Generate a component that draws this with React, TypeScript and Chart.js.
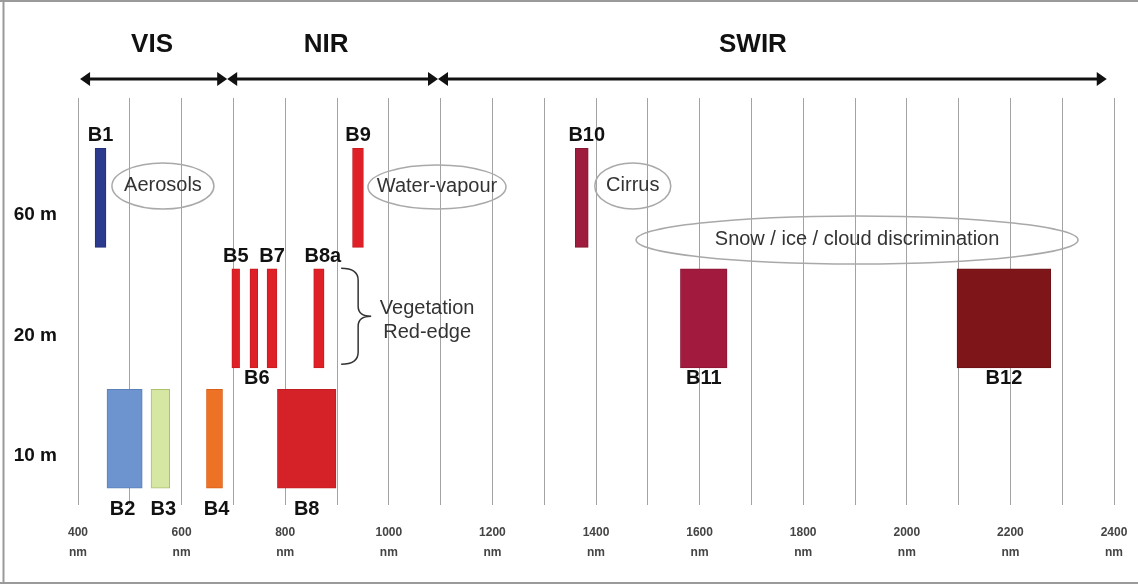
import React, { useEffect, useRef } from 'react';
import { Chart, registerables } from 'chart.js';

Chart.register(...registerables);

// ---- data ----
const bandNames = ['B1', 'B2', 'B3', 'B4', 'B5', 'B6', 'B7', 'B8', 'B8a', 'B9', 'B10', 'B11', 'B12'];
const bandStart = [433, 456, 541, 648, 697, 732, 765, 785, 855, 930, 1360, 1563, 2097];
const bandEnd = [454, 524, 577, 679, 712, 747, 784, 898, 875, 951, 1385, 1653, 2278];
const bandResolution = [60, 10, 10, 10, 20, 20, 20, 10, 20, 60, 60, 20, 20];

const resolutionRows = [60, 20, 10];
const resolutionLabels = ['60 m', '20 m', '10 m'];

const xTickValues = [400, 600, 800, 1000, 1200, 1400, 1600, 1800, 2000, 2200, 2400];
const xUnit = 'nm';

const regionNames = ['VIS', 'NIR', 'SWIR'];
const regionStart = [404, 688, 1095];
const regionEnd = [688, 1095, 2386];
const regionLabelX = [543, 879, 1703];

// ---- styles ----
const bandColors = ['#2c3a8e', '#6d94cf', '#d6e6a3', '#ee7226', '#e02027', '#e02027', '#e02027', '#d52229', '#e02027', '#e02027', '#9e1c3d', '#a21b3e', '#7e1619'];
const bandBorders = ['#25307a', '#5b80b8', '#a9c06e', '#d9601a', '#c81b21', '#c81b21', '#c81b21', '#bf1d23', '#c81b21', '#c81b21', '#861733', '#8a1634', '#6c1215'];
const bandLabelPlace = ['above', 'foot', 'foot', 'foot', 'above', 'below', 'above', 'foot', 'above', 'above', 'above', 'below', 'below'];
const bandLabelDx = [0, -2, 3, 2, 0, 3, 0, 0, 4, 0, 5, 0, 0];
const placeDy: Record<string, number> = { above: -62, below: 60, foot: 71 };

const ellipseNotes = [
  { text: 'Aerosols', x: 564, row: 60, dy: -12, rx: 51, ry: 23 },
  { text: 'Water-vapour', x: 1093, row: 60, dy: -11, rx: 69, ry: 22 },
  { text: 'Cirrus', x: 1471, row: 60, dy: -12, rx: 38, ry: 23 },
  { text: 'Snow / ice / cloud discrimination', x: 1904, row: 60, dy: 42, rx: 221, ry: 24 },
];
const braceNote = { x: 908, row: 20, lines: ['Vegetation', 'Red-edge'], textX: 1074, lineDy: [-10, 14] };

const FONT = '"Liberation Sans", Arial, Helvetica, sans-serif';

const rowValue = (res: number) => resolutionRows.length - resolutionRows.indexOf(res);

const annotationPlugin = {
  id: 'sentinelAnnotations',
  beforeDraw(chart: any) {
    const { ctx, width, height } = chart;
    ctx.save();
    ctx.fillStyle = '#ffffff';
    ctx.fillRect(0, 0, width, height);
    ctx.restore();
  },
  afterDatasetsDraw(chart: any) {
    const { ctx, chartArea, scales } = chart;
    const x = scales.x;
    const y = scales.y;
    ctx.save();

    // spectral region arrows
    const ay = chartArea.top - 19;
    ctx.strokeStyle = '#111';
    ctx.fillStyle = '#111';
    regionNames.forEach((name, i) => {
      const x1 = x.getPixelForValue(regionStart[i]);
      const x2 = x.getPixelForValue(regionEnd[i]);
      const head = 10;
      const hh = 7;
      ctx.lineWidth = 3;
      ctx.beginPath();
      ctx.moveTo(x1 + head - 1, ay);
      ctx.lineTo(x2 - head + 1, ay);
      ctx.stroke();
      ctx.beginPath();
      ctx.moveTo(x1, ay);
      ctx.lineTo(x1 + head, ay - hh);
      ctx.lineTo(x1 + head, ay + hh);
      ctx.closePath();
      ctx.fill();
      ctx.beginPath();
      ctx.moveTo(x2, ay);
      ctx.lineTo(x2 - head, ay - hh);
      ctx.lineTo(x2 - head, ay + hh);
      ctx.closePath();
      ctx.fill();
      ctx.font = `bold 26px ${FONT}`;
      ctx.textAlign = 'center';
      ctx.textBaseline = 'middle';
      ctx.fillText(name, x.getPixelForValue(regionLabelX[i]), chartArea.top - 53);
    });

    // band labels
    ctx.font = `bold 20px ${FONT}`;
    ctx.fillStyle = '#111';
    ctx.textAlign = 'center';
    ctx.textBaseline = 'middle';
    bandNames.forEach((name, i) => {
      const cx = x.getPixelForValue((bandStart[i] + bandEnd[i]) / 2) + bandLabelDx[i];
      const cy = y.getPixelForValue(rowValue(bandResolution[i])) + placeDy[bandLabelPlace[i]];
      ctx.fillText(name, cx, cy);
    });

    // ellipse notes
    ellipseNotes.forEach((n) => {
      const cx = x.getPixelForValue(n.x);
      const cy = y.getPixelForValue(rowValue(n.row)) + n.dy;
      ctx.strokeStyle = '#a9a9a9';
      ctx.lineWidth = 1.5;
      ctx.beginPath();
      ctx.ellipse(cx, cy, n.rx, n.ry, 0, 0, Math.PI * 2);
      ctx.stroke();
      ctx.fillStyle = '#333';
      ctx.font = `20px ${FONT}`;
      ctx.fillText(n.text, cx, cy);
    });

    // brace
    const bx = x.getPixelForValue(braceNote.x);
    const rowPix = y.getPixelForValue(rowValue(braceNote.row));
    const top = rowPix - 50;
    const bot = rowPix + 46;
    const mid = (top + bot) / 2;
    const sx = bx + 17;
    const px = bx + 30;
    ctx.strokeStyle = '#333';
    ctx.lineWidth = 1.5;
    ctx.beginPath();
    ctx.moveTo(bx, top);
    ctx.quadraticCurveTo(sx, top, sx, top + 12);
    ctx.lineTo(sx, mid - 10);
    ctx.quadraticCurveTo(sx, mid, px, mid);
    ctx.quadraticCurveTo(sx, mid, sx, mid + 10);
    ctx.lineTo(sx, bot - 12);
    ctx.quadraticCurveTo(sx, bot, bx, bot);
    ctx.stroke();
    ctx.fillStyle = '#333';
    ctx.font = `20px ${FONT}`;
    braceNote.lines.forEach((t, i) => {
      ctx.fillText(t, x.getPixelForValue(braceNote.textX), rowPix + braceNote.lineDy[i]);
    });

    ctx.restore();
  },
  afterDraw(chart: any) {
    const { ctx } = chart;
    ctx.save();
    ctx.strokeStyle = '#9a9a9a';
    ctx.lineWidth = 2;
    ctx.beginPath();
    ctx.moveTo(0, 1);
    ctx.lineTo(1138, 1);
    ctx.moveTo(3.5, 0);
    ctx.lineTo(3.5, 583);
    ctx.moveTo(0, 583);
    ctx.lineTo(1138, 583);
    ctx.stroke();
    ctx.restore();
  },
};

export default function App() {
  const canvasRef = useRef<HTMLCanvasElement | null>(null);

  useEffect(() => {
    const canvas = canvasRef.current;
    if (!canvas) return;
    const chart = new Chart(canvas, {
      type: 'bar',
      data: {
        datasets: [
          {
            label: 'Sentinel-2 bands',
            data: bandNames.map((_, i) => ({ x: [bandStart[i], bandEnd[i]], y: rowValue(bandResolution[i]) })) as any,
            backgroundColor: bandColors,
            borderColor: bandBorders,
            borderWidth: 1,
            borderSkipped: false,
            barThickness: 99,
          } as any,
        ],
      },
      options: {
        indexAxis: 'y',
        responsive: false,
        animation: false,
        layout: { padding: { top: 98, right: 24, left: 0, bottom: 0 } },
        plugins: { legend: { display: false }, tooltip: { enabled: false } },
        scales: {
          x: {
            type: 'linear',
            position: 'bottom',
            min: 400,
            max: 2400,
            grid: { color: '#a3a3a3', lineWidth: 1, drawTicks: false },
            border: { display: false },
            ticks: {
              stepSize: 100,
              autoSkip: false,
              maxRotation: 0,
              minRotation: 0,
              padding: 18,
              color: '#444',
              font: { family: FONT, size: 12, weight: 'bold', lineHeight: 1.667 },
              callback: (v: any) => (xTickValues.includes(Number(v)) ? [String(v), xUnit] : ''),
            },
            afterFit: (s: any) => {
              s.height = 83;
              s.paddingLeft = 0;
              s.paddingRight = 0;
            },
          },
          y: {
            type: 'linear',
            min: 0.45,
            max: 3.83,
            offset: false,
            grid: { display: false, drawTicks: false, offset: false },
            border: { display: false },
            afterBuildTicks: (s: any) => {
              s.ticks = resolutionRows.map((r) => ({ value: rowValue(r) }));
            },
            ticks: {
              padding: 21,
              labelOffset: 17,
              color: '#111',
              font: { family: FONT, size: 19, weight: 'bold' },
              callback: (v: any) => {
                const idx = resolutionRows.length - Number(v);
                return resolutionLabels[idx] ?? '';
              },
            },
            afterFit: (s: any) => {
              s.width = 78;
              s.paddingTop = 0;
              s.paddingBottom = 0;
            },
          },
        } as any,
      },
      plugins: [annotationPlugin],
    });
    return () => chart.destroy();
  }, []);

  return (
    <div style={{ position: 'fixed', left: 0, top: 0, width: 1138, height: 588, background: '#fff' }}>
      <canvas ref={canvasRef} width={1138} height={588} style={{ display: 'block' }} />
    </div>
  );
}
